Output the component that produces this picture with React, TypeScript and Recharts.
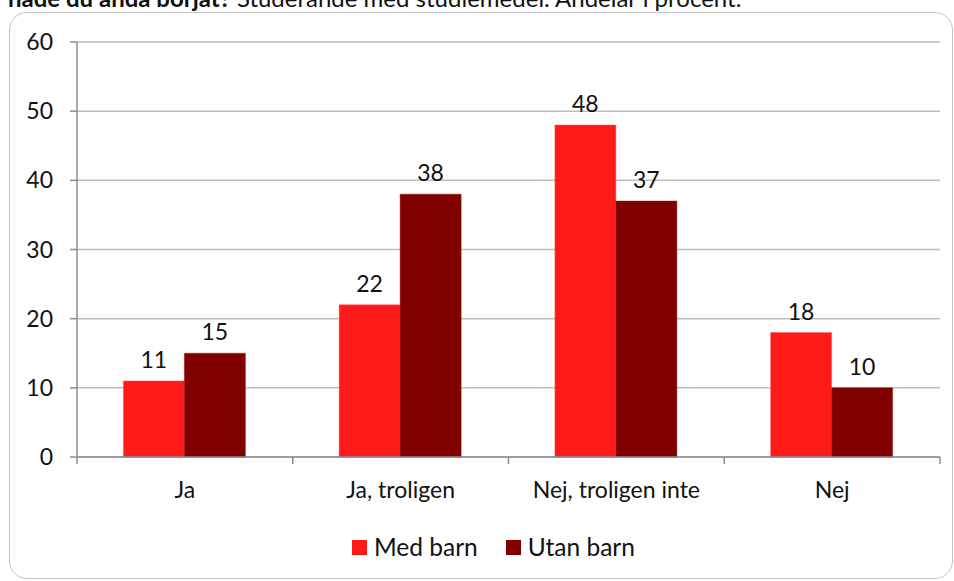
import * as React from "react";
import {
  Bar,
  BarChart,
  CartesianGrid,
  LabelList,
  XAxis,
  YAxis,
} from "recharts";

const categories = ["Ja", "Ja, troligen", "Nej, troligen inte", "Nej"];
const medBarn = [11, 22, 48, 18];
const utanBarn = [15, 38, 37, 10];
const yTicks = [0, 10, 20, 30, 40, 50, 60];

const data = categories.map((name, i) => ({
  name,
  med: medBarn[i],
  utan: utanBarn[i],
}));

const FONT = "Lato, 'Open Sans', sans-serif";
const FS = 23;
const RED = "#ff1a1a";
const DARK = "#800000";
const AXIS = "#8c8c8c";

// chart frame
const W = 954;
const H = 581;
const M = { top: 42, right: 14, bottom: 94, left: 27 };
const Y_W = 50;
const X_H = 30;
const axisY = H - M.bottom - X_H;
const band = (W - M.left - Y_W - M.right) / categories.length;

function CategoryTick(props: any) {
  const { x, payload, index } = props;
  const left = x - band / 2;
  return (
    <g>
      <line x1={left} x2={left} y1={axisY} y2={axisY + 7} stroke={AXIS} strokeWidth={1.5} />
      {index === categories.length - 1 && (
        <line x1={left + band} x2={left + band} y1={axisY} y2={axisY + 7} stroke={AXIS} strokeWidth={1.5} />
      )}
      <text x={x} y={axisY + 41} textAnchor="middle" fill="#111" fontSize={FS} fontFamily={FONT}>
        {payload.value}
      </text>
    </g>
  );
}

function LegendRow() {
  const items = [
    { label: "Med barn", color: RED },
    { label: "Utan barn", color: DARK },
  ];
  return (
    <div
      style={{
        position: "absolute",
        top: 533,
        left: 352,
        display: "flex",
        alignItems: "center",
        fontFamily: FONT,
        fontSize: 24.5,
        lineHeight: "28px",
        color: "#111",
      }}
    >
      {items.map((it) => (
        <div key={it.label} style={{ display: "flex", alignItems: "center", marginRight: 28 }}>
          <span style={{ width: 15, height: 15, background: it.color, marginRight: 7 }} />
          <span>{it.label}</span>
        </div>
      ))}
    </div>
  );
}

export default function App() {
  return (
    <div style={{ position: "absolute", left: 0, top: 0, width: W, height: H, overflow: "hidden", background: "#fff" }}>
      <div
        style={{
          position: "absolute",
          left: 8,
          top: -14,
          fontFamily: FONT,
          fontSize: 24,
          lineHeight: "24px",
          color: "#111",
          whiteSpace: "nowrap",
        }}
      >
        <b>hade du ändå börjat?</b> Studerande med studiemedel. Andelar i procent.
      </div>
      <div
        style={{
          position: "absolute",
          left: 9,
          top: 12,
          width: 942,
          height: 565,
          border: "1.5px solid #c4c4c4",
          borderRadius: 18,
        }}
      />
      <div style={{ position: "absolute", left: 0, top: 0 }}>
        <BarChart
          width={W}
          height={H}
          data={data}
          margin={M}
          barCategoryGap="21.5%"
          barGap={0}
        >
          <CartesianGrid vertical={false} stroke="#bdbdbd" strokeWidth={1.5} />
          <XAxis
            dataKey="name"
            height={X_H}
            tickLine={false}
            stroke={AXIS}
            strokeWidth={1.5}
            tick={<CategoryTick />}
            interval={0}
          />
          <YAxis
            width={Y_W}
            domain={[0, 60]}
            ticks={yTicks}
            tickSize={7}
            tickMargin={17}
            stroke={AXIS}
            strokeWidth={1.5}
            tick={{ fill: "#111", fontSize: FS, fontFamily: FONT }}
          />
          <Bar dataKey="med" fill={RED} stroke="#ff5a5a" strokeWidth={0.5} isAnimationActive={false}>
            <LabelList dataKey="med" position="top" offset={13} fill="#111" fontSize={FS} fontFamily={FONT} />
          </Bar>
          <Bar dataKey="utan" fill={DARK} stroke="#a01010" strokeWidth={0.5} isAnimationActive={false}>
            <LabelList dataKey="utan" position="top" offset={13} fill="#111" fontSize={FS} fontFamily={FONT} />
          </Bar>
        </BarChart>
      </div>
      <LegendRow />
    </div>
  );
}
